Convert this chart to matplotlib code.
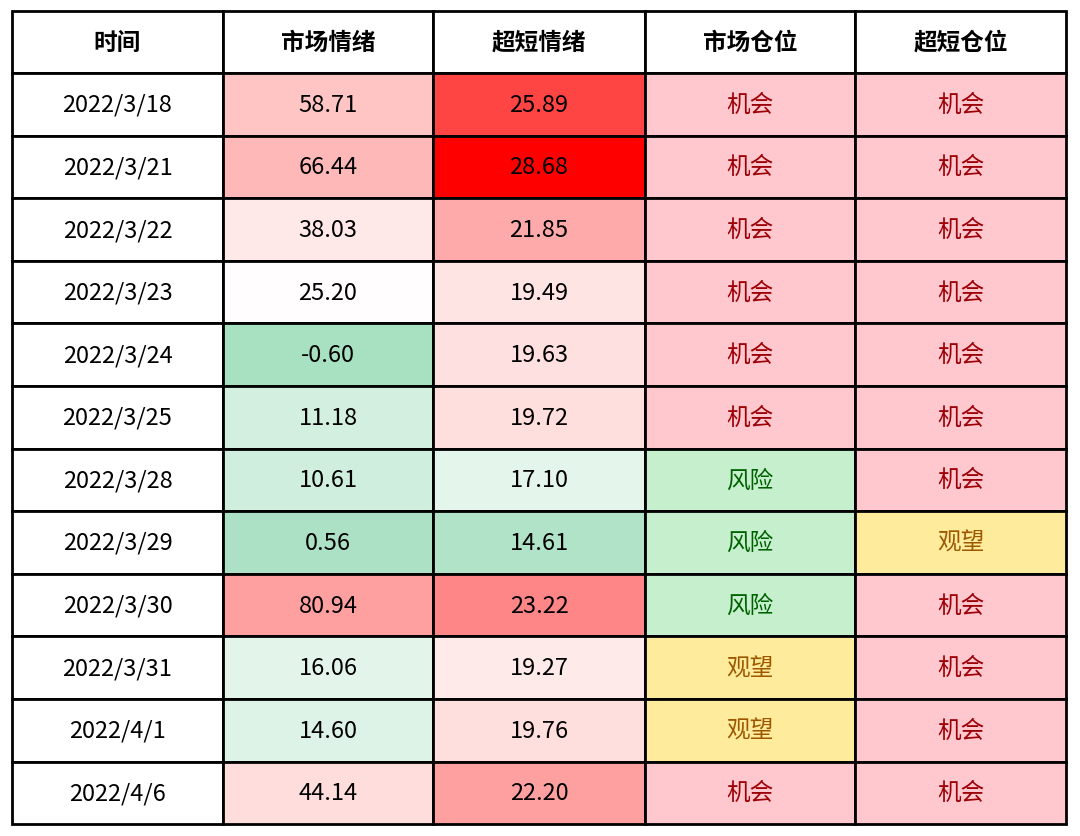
import matplotlib.pyplot as plt
from matplotlib.patches import Rectangle
from matplotlib.colors import LinearSegmentedColormap, TwoSlopeNorm

headers = ['时间', '市场情绪', '超短情绪', '市场仓位', '超短仓位']
dates = ['2022/3/18', '2022/3/21', '2022/3/22', '2022/3/23', '2022/3/24', '2022/3/25',
         '2022/3/28', '2022/3/29', '2022/3/30', '2022/3/31', '2022/4/1', '2022/4/6']
market = [58.71, 66.44, 38.03, 25.20, -0.60, 11.18, 10.61, 0.56, 80.94, 16.06, 14.60, 44.14]
short = [25.89, 28.68, 21.85, 19.49, 19.63, 19.72, 17.10, 14.61, 23.22, 19.27, 19.76, 22.20]
market_pos = ['机会'] * 6 + ['风险'] * 3 + ['观望'] * 2 + ['机会']
short_pos = ['机会'] * 7 + ['观望'] + ['机会'] * 4

pos_style = {'机会': ('#FFC7CE', '#9C0006'),
             '风险': ('#C6EFCE', '#006100'),
             '观望': ('#FFEB9C', '#9C5700')}

FONT = 'Noto Sans CJK SC'
fig = plt.figure(figsize=(10.8, 8.37), dpi=100)
ax = fig.add_axes([0, 0, 1, 1])
ax.set_xlim(0, 1080)
ax.set_ylim(837, 0)
ax.axis('off')

col_x = [12, 223, 433, 645, 855, 1066]
top, row_h, head_h = 12, 62.6, 62
cmap_m = LinearSegmentedColormap.from_list('m', ['#A8E0C2', '#FFFFFF', '#FFA0A0'])
cmap_s = LinearSegmentedColormap.from_list('s', ['#B0E3C8', '#FFFFFF', '#FF0000'])
norm_m = TwoSlopeNorm(vcenter=24, vmin=min(market), vmax=max(market))
norm_s = TwoSlopeNorm(vcenter=18.4, vmin=min(short), vmax=max(short))


def cell(c, y, h, text, bg, fg='black', bold=False):
    x0, x1 = col_x[c], col_x[c + 1]
    ax.add_patch(Rectangle((x0, y), x1 - x0, h, facecolor=bg, edgecolor='black', lw=2))
    ax.text((x0 + x1) / 2, y + h / 2, text, ha='center', va='center', fontsize=17,
            color=fg, family=FONT, fontweight='bold' if bold else 'normal')


for c, h in enumerate(headers):
    cell(c, top, head_h, h, 'white', bold=True)

for i in range(len(dates)):
    y = top + head_h + i * row_h
    cell(0, y, row_h, dates[i], 'white')
    cell(1, y, row_h, f'{market[i]:.2f}', cmap_m(norm_m(market[i])))
    cell(2, y, row_h, f'{short[i]:.2f}', cmap_s(norm_s(short[i])))
    bg, fg = pos_style[market_pos[i]]
    cell(3, y, row_h, market_pos[i], bg, fg)
    bg, fg = pos_style[short_pos[i]]
    cell(4, y, row_h, short_pos[i], bg, fg)

fig.savefig('out.png', dpi=100)
